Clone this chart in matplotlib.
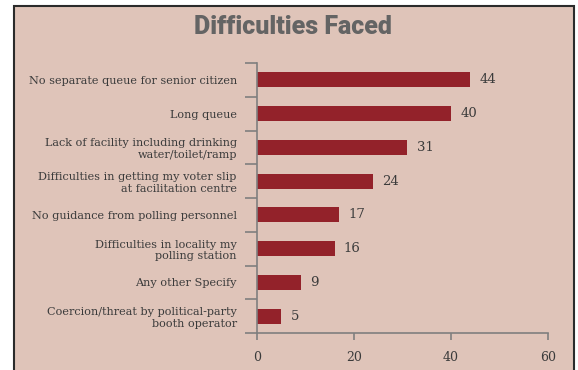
import matplotlib
matplotlib.use("Agg")
import matplotlib.pyplot as plt
from matplotlib.patches import Rectangle
from matplotlib.ticker import FixedLocator

categories = [
    "No separate queue for senior citizen",
    "Long queue",
    "Lack of facility including drinking\nwater/toilet/ramp",
    "Difficulties in getting my voter slip\nat facilitation centre",
    "No guidance from polling personnel",
    "Difficulties in locality my\npolling station",
    "Any other Specify",
    "Coercion/threat by political-party\nbooth operator",
]
values = [44, 40, 31, 24, 17, 16, 9, 5]
xticks = [0, 20, 40, 60]
title = "Difficulties Faced"

bg = "#DFC4B9"
bar_color = "#93222A"
axis_color = "#7f7f7f"
text_color = "#3b3b3b"

W, H = 578, 370
fig = plt.figure(figsize=(W / 100, H / 100), dpi=100)
fig.patch.set_facecolor("white")

# panel background with border
fig.patches.append(Rectangle((13.5 / W, -0.02), (574 - 13.5) / W, (H - 6) / H + 0.02,
                             transform=fig.transFigure, facecolor=bg,
                             edgecolor="#2b2b2b", linewidth=1.5, zorder=-10))

ax = fig.add_axes([257 / W, 1 - 333 / H, (548 - 257) / W, (333 - 63) / H])
ax.set_facecolor("none")
ax.set_zorder(5)

ypos = list(range(len(categories)))
ax.barh(ypos, values, height=0.45, color=bar_color, zorder=2)
for y, v in zip(ypos, values):
    ax.text(v + 1.9, y, str(v), va="center", ha="left", fontsize=9.5,
            family="DejaVu Serif", color=text_color)

ax.set_xlim(0, 60)
ax.set_ylim(len(categories) - 0.5, -0.5)
ax.set_xticks(xticks)
ax.set_xticklabels([str(t) for t in xticks], family="DejaVu Serif",
                   fontsize=9, color=text_color)

ax.yaxis.set_major_locator(FixedLocator(ypos))
ax.set_yticklabels(categories, family="DejaVu Serif", fontsize=8.1,
                   color=text_color, linespacing=1.2)
ax.yaxis.set_minor_locator(FixedLocator([y - 0.5 for y in ypos] + [len(ypos) - 0.5]))
ax.tick_params(axis="y", which="major", length=0, pad=14.5)
ax.tick_params(axis="y", which="minor", length=9, width=1.2, color=axis_color)
ax.tick_params(axis="x", which="major", length=5, width=1.2, color=axis_color, pad=8)

for s in ["top", "right"]:
    ax.spines[s].set_visible(False)
for s in ["left", "bottom"]:
    ax.spines[s].set_color(axis_color)
    ax.spines[s].set_linewidth(1.2)

fig.text(293 / W, 1 - 27 / H, title, ha="center", va="center",
         fontsize=18, fontweight=900, family="Roboto", color="#646464")

fig.savefig("out.png", dpi=100, facecolor=fig.get_facecolor())
